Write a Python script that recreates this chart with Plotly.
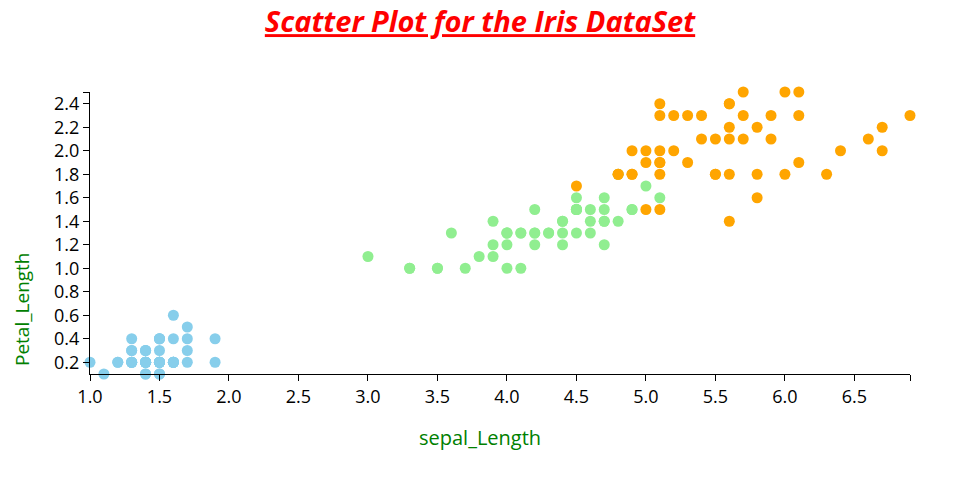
import plotly.graph_objects as go

# Iris dataset: petal length (x) and petal width (y) per species
setosa_x = [1.4,1.4,1.3,1.5,1.4,1.7,1.4,1.5,1.4,1.5,1.5,1.6,1.4,1.1,1.2,1.5,1.3,1.4,1.7,1.5,
            1.7,1.5,1.0,1.7,1.9,1.6,1.6,1.5,1.4,1.6,1.6,1.5,1.5,1.4,1.5,1.2,1.3,1.4,1.3,1.5,
            1.3,1.3,1.3,1.6,1.9,1.4,1.6,1.4,1.5,1.4]
setosa_y = [0.2,0.2,0.2,0.2,0.2,0.4,0.3,0.2,0.2,0.1,0.2,0.2,0.1,0.1,0.2,0.4,0.4,0.3,0.3,0.3,
            0.2,0.4,0.2,0.5,0.2,0.2,0.4,0.2,0.2,0.2,0.2,0.4,0.1,0.2,0.2,0.2,0.2,0.1,0.2,0.2,
            0.3,0.3,0.2,0.6,0.4,0.3,0.2,0.2,0.2,0.2]
versicolor_x = [4.7,4.5,4.9,4.0,4.6,4.5,4.7,3.3,4.6,3.9,3.5,4.2,4.0,4.7,3.6,4.4,4.5,4.1,4.5,3.9,
                4.8,4.0,4.9,4.7,4.3,4.4,4.8,5.0,4.5,3.5,3.8,3.7,3.9,5.1,4.5,4.5,4.7,4.4,4.1,4.0,
                4.4,4.6,4.0,3.3,4.2,4.2,4.2,4.3,3.0,4.1]
versicolor_y = [1.4,1.5,1.5,1.3,1.5,1.3,1.6,1.0,1.3,1.4,1.0,1.5,1.0,1.4,1.3,1.4,1.5,1.0,1.5,1.1,
                1.8,1.3,1.5,1.2,1.3,1.4,1.4,1.7,1.5,1.0,1.1,1.0,1.2,1.6,1.5,1.6,1.5,1.3,1.3,1.3,
                1.2,1.4,1.2,1.0,1.3,1.2,1.3,1.3,1.1,1.3]
virginica_x = [6.0,5.1,5.9,5.6,5.8,6.6,4.5,6.3,5.8,6.1,5.1,5.3,5.5,5.0,5.1,5.3,5.5,6.7,6.9,5.0,
               5.7,4.9,6.7,4.9,5.7,6.0,4.8,4.9,5.6,5.8,6.1,6.4,5.6,5.1,5.6,6.1,5.6,5.5,4.8,5.4,
               5.6,5.1,5.1,5.9,5.7,5.2,5.0,5.2,5.4,5.1]
virginica_y = [2.5,1.9,2.1,1.8,2.2,2.1,1.7,1.8,1.8,2.5,2.0,1.9,2.1,2.0,2.4,2.3,1.8,2.2,2.3,1.5,
               2.3,2.0,2.0,1.8,2.1,1.8,1.8,1.8,2.1,1.6,1.9,2.0,2.2,1.5,1.4,2.3,2.4,1.8,1.8,2.1,
               2.4,2.3,1.9,2.3,2.5,2.3,1.9,2.0,2.3,1.8]

x_ticks = [1.0,1.5,2.0,2.5,3.0,3.5,4.0,4.5,5.0,5.5,6.0,6.5]
y_ticks = [0.2,0.4,0.6,0.8,1.0,1.2,1.4,1.6,1.8,2.0,2.2,2.4]
x_range = [1.0, 6.9]
y_range = [0.1, 2.5]

series = [
    ("setosa", setosa_x, setosa_y, "#87CEEB"),
    ("versicolor", versicolor_x, versicolor_y, "#90EE90"),
    ("virginica", virginica_x, virginica_y, "#FFA500"),
]

fig = go.Figure()
for name, xs, ys, col in series:
    fig.add_trace(go.Scatter(
        x=xs, y=ys, mode="markers", name=name,
        marker=dict(size=11, color=col, line=dict(width=0)),
        cliponaxis=False, showlegend=False,
    ))

font_family = "Open Sans"

# include domain end as an unlabeled tick (D3-style outer tick)
xtv = x_ticks + [x_range[1]]
xtt = [f"{v:.1f}" for v in x_ticks] + [""]
ytv = y_ticks + [y_range[1]]
ytt = [f"{v:.1f}" for v in y_ticks] + [""]

fig.update_layout(
    width=960, height=500,
    paper_bgcolor="white", plot_bgcolor="white",
    margin=dict(l=90, r=50, t=92, b=126, autoexpand=False),
    title=dict(
        text="<b><i><u>Scatter Plot for the Iris DataSet</u></i></b>",
        x=0.5, xref="container", xanchor="center",
        y=1 - 22/500, yref="container", yanchor="middle",
        font=dict(family=font_family, size=29, color="red"),
    ),
    font=dict(family=font_family, size=18, color="black"),
    xaxis=dict(
        range=x_range, showgrid=False, zeroline=False,
        showline=True, linecolor="black", linewidth=1,
        ticks="outside", ticklen=6, tickcolor="black", tickwidth=1,
        tickvals=xtv, ticktext=xtt,
        tickfont=dict(family=font_family, size=18, color="black"),
    ),
    yaxis=dict(
        range=y_range, showgrid=False, zeroline=False,
        showline=True, linecolor="black", linewidth=1,
        ticks="outside", ticklen=6, tickcolor="black", tickwidth=1,
        tickvals=ytv, ticktext=ytt,
        tickfont=dict(family=font_family, size=18, color="black"),
    ),
    annotations=[
        dict(text="sepal_Length", xref="paper", yref="paper",
             x=(480-90)/820, y=(374-437)/282, xanchor="center", yanchor="middle",
             showarrow=False, font=dict(family=font_family, size=20, color="green")),
        dict(text="Petal_Length", xref="paper", yref="paper", textangle=-90,
             x=(22-90)/820, y=(374-309)/282, xanchor="center", yanchor="middle",
             showarrow=False, font=dict(family=font_family, size=19, color="green")),
    ],
)

fig.write_html("out.html", config={"displayModeBar": False},
               post_script="document.body.style.margin='0';")
